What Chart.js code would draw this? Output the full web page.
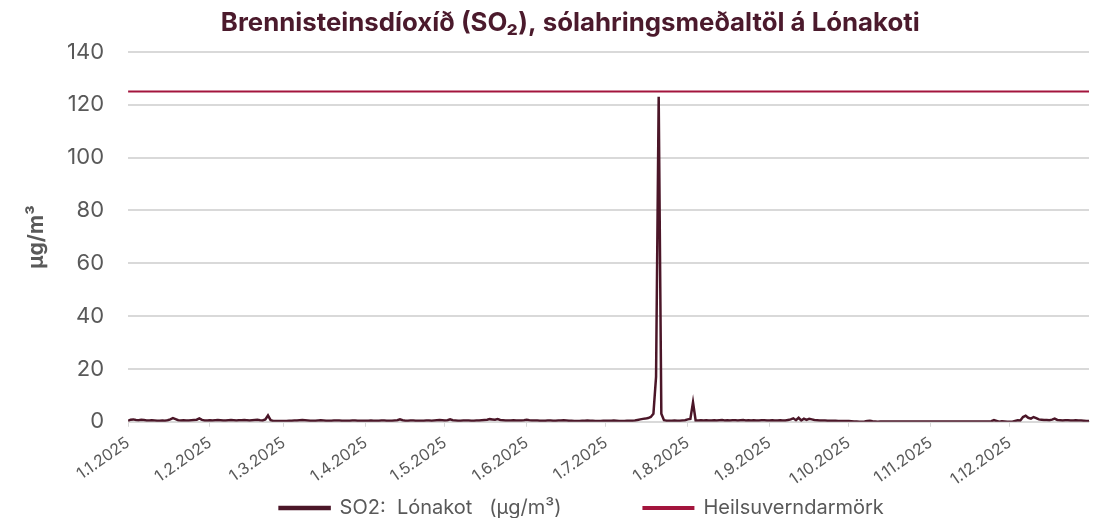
<!DOCTYPE html>
<html>
<head>
<meta charset="utf-8">
<script src="https://cdn.jsdelivr.net/npm/chart.js@4/dist/chart.umd.min.js"></script>
<style>
  html, body { margin: 0; padding: 0; background: #fff; }
  #wrap { width: 1099px; height: 518px; }
</style>
</head>
<body>
<div id="wrap"><canvas id="graf"></canvas></div>
<script>
// daglegt meðaltal SO2 (µg/m3), lesið af myndinni, mánuð fyrir mánuð
const jan = [0.4,0.8,0.9,0.7,0.6,0.8,0.7,0.5,0.5,0.6, 0.5,0.4,0.4,0.5,0.4,0.6,0.9,1.4,1.0,0.6, 0.5,0.6,0.5,0.5,0.6,0.7,0.8,1.3,0.7,0.5, 0.5];
const feb = [0.6,0.5,0.6,0.7,0.6,0.5,0.5,0.6,0.7,0.6, 0.5,0.6,0.6,0.7,0.6,0.5,0.6,0.7,0.8,0.6, 0.5,0.9,2.4,0.6,0.3,0.3,0.3,0.3];
const mar = [0.3,0.3,0.4,0.4,0.5,0.5,0.6,0.7,0.6,0.5, 0.4,0.4,0.4,0.5,0.6,0.5,0.4,0.4,0.4,0.5, 0.5,0.5,0.4,0.4,0.4,0.4,0.5,0.5,0.4,0.4, 0.4];
const apr = [0.4,0.4,0.5,0.4,0.4,0.4,0.5,0.5,0.4,0.4, 0.4,0.5,0.6,0.9,0.6,0.4,0.4,0.5,0.5,0.4, 0.4,0.4,0.4,0.5,0.5,0.4,0.5,0.6,0.7,0.6];
const mai = [0.5,0.6,0.9,0.6,0.5,0.4,0.4,0.5,0.5,0.5, 0.4,0.4,0.5,0.5,0.6,0.7,0.8,1.0,0.9,0.8, 1.0,0.7,0.6,0.5,0.5,0.5,0.6,0.5,0.5,0.5, 0.6];
const jun = [0.8,0.6,0.5,0.5,0.5,0.4,0.4,0.4,0.5,0.5, 0.4,0.4,0.5,0.5,0.6,0.5,0.4,0.4,0.3,0.3, 0.3,0.4,0.4,0.5,0.4,0.4,0.3,0.3,0.3,0.4];
const jul = [0.4,0.4,0.4,0.5,0.4,0.3,0.3,0.3,0.4,0.4, 0.4,0.5,0.7,0.9,1.1,1.2,1.4,1.8,3.0,17, 123,3.0,0.6,0.4,0.4,0.4,0.5,0.4,0.4,0.5, 0.6];
const agu = [0.9,1.1,7.4,0.5,0.5,0.6,0.5,0.6,0.5,0.5, 0.6,0.5,0.6,0.7,0.5,0.6,0.5,0.6,0.6,0.5, 0.6,0.7,0.5,0.6,0.5,0.6,0.5,0.5,0.6,0.6, 0.5];
const sep = [0.5,0.6,0.5,0.5,0.6,0.5,0.5,0.7,0.9,1.3, 0.6,1.5,0.5,1.2,0.7,1.1,0.9,0.7,0.6,0.5, 0.5,0.5,0.4,0.4,0.4,0.4,0.3,0.3,0.3,0.3];
const okt = [0.3,0.2,0.1,0.1,0.0,0.0,0.1,0.3,0.4,0.2, 0.1,0.0,0.1,0.1,0.1,0.1,0.1,0.1,0.1,0.1, 0.1,0.1,0.1,0.1,0.1,0.1,0.1,0.1,0.1,0.1, 0.1];
const nov = [0.1,0.1,0.1,0.1,0.1,0.1,0.1,0.1,0.1,0.1, 0.1,0.1,0.1,0.1,0.1,0.1,0.1,0.1,0.1,0.1, 0.1,0.1,0.1,0.2,0.6,0.3,0.0,0.2,0.1,0.0];
const des = [0.0,0.0,0.3,0.6,0.5,1.8,2.3,1.5,1.2,1.8, 1.4,0.9,0.8,0.7,0.7,0.6,0.8,1.2,0.7,0.6, 0.5,0.6,0.6,0.5,0.5,0.6,0.5,0.5,0.4,0.3, 0.3];

const heilsuverndarmork = 125;

// fyrsti dagur hvers mánaðar (dagur nr. frá 1.1.) og merkingar á x-ás
const manadarbyrjun = [0, 31, 59, 90, 120, 151, 181, 212, 243, 273, 304, 334];
const manadarmerki = ["1.1.2025","1.2.2025","1.3.2025","1.4.2025","1.5.2025","1.6.2025",
                      "1.7.2025","1.8.2025","1.9.2025","1.10.2025","1.11.2025","1.12.2025"];
const yTicks = [0, 20, 40, 60, 80, 100, 120, 140];

const so2 = [].concat(jan, feb, mar, apr, mai, jun, jul, agu, sep, okt, nov, des);
const sidastiDagur = so2.length - 1;

const gra = "#595959";
const font = "Inter, 'Noto Sans', sans-serif";

new Chart(document.getElementById("graf"), {
  type: "line",
  data: {
    datasets: [
      {
        // em-bil aftast í texta gefa bilið á milli skýringa
        label: "SO2:  Lónakot   (µg/m³)\u2003\u2003\u2003\u2003",
        data: so2.map((v, i) => ({ x: i, y: v })),
        borderColor: "#4b1628",
        backgroundColor: "#4b1628",
        borderWidth: 2.5,
        pointRadius: 0,
        tension: 0
      },
      {
        label: "Heilsuverndarmörk\u2003\u2003\u2002\u2009",
        data: [{ x: 0, y: heilsuverndarmork }, { x: sidastiDagur, y: heilsuverndarmork }],
        borderColor: "#a3153d",
        backgroundColor: "#a3153d",
        borderWidth: 2,
        pointRadius: 0
      }
    ]
  },
  options: {
    responsive: true,
    maintainAspectRatio: false,
    animation: false,
    // neðra bil neikvætt svo skýringin liggi neðar, eins og á fyrirmyndinni
    layout: { padding: { left: 0, right: 10, top: 3, bottom: -10 } },
    plugins: {
      title: {
        display: true,
        text: "\u2003\u2003Brennisteinsdíoxíð (SO₂), sólahringsmeðaltöl á Lónakoti",
        color: "#4b1a2c",
        font: { family: font, size: 25.8, weight: "bold" },
        padding: { top: 5, bottom: 13 }
      },
      legend: {
        position: "bottom",
        fullSize: false,
        labels: {
          color: gra,
          font: { family: font, size: 20 },
          boxWidth: 50,
          boxHeight: 2,
          padding: 2
        }
      },
      tooltip: { enabled: false }
    },
    scales: {
      x: {
        type: "linear",
        min: 0,
        max: sidastiDagur,
        afterBuildTicks: (scale) => {
          scale.ticks = manadarbyrjun.map(v => ({ value: v }));
        },
        ticks: {
          autoSkip: false,
          maxRotation: 35,
          minRotation: 35,
          color: gra,
          font: { family: font, size: 16, lineHeight: 1 },
          padding: 8,
          callback: (value) => manadarmerki[manadarbyrjun.indexOf(value)]
        },
        grid: { drawOnChartArea: false, drawTicks: true, tickLength: 5, color: "#d9d9d9" },
        border: { color: "#d9d9d9" }
      },
      y: {
        min: 0,
        max: 140,
        afterBuildTicks: (scale) => {
          scale.ticks = yTicks.map(v => ({ value: v }));
        },
        ticks: {
          color: gra,
          font: { family: font, size: 22 },
          padding: 24
        },
        grid: { color: "#d9d9d9", lineWidth: 2, drawTicks: false },
        border: { display: false },
        title: {
          display: true,
          text: "µg/m³",
          color: gra,
          font: { family: font, size: 21, weight: "bold", lineHeight: 0.62 },
          padding: { top: 30, bottom: 0 }
        }
      }
    }
  }
});
</script>
</body>
</html>
